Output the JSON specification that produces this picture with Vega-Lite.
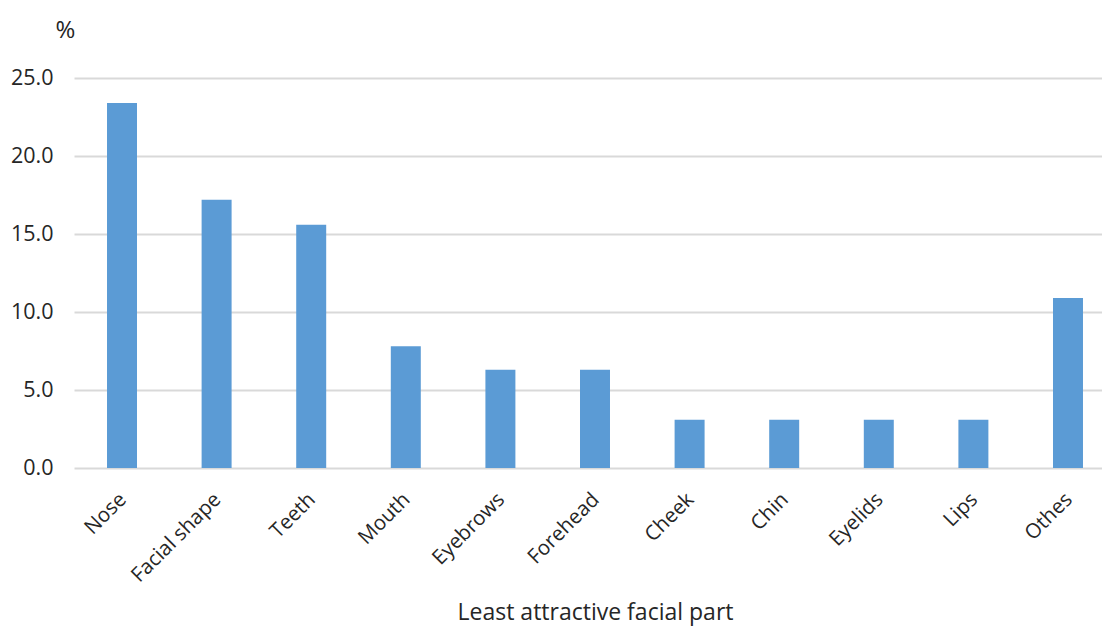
{
  "$schema": "https://vega.github.io/schema/vega-lite/v6.json",
  "width": 1028,
  "height": 390,
  "autosize": {"type": "none"},
  "padding": {"left": 74, "top": 78, "right": 0, "bottom": 160},
  "background": "white",
  "config": {"view": {"stroke": null}, "font": "Open Sans"},
  "data": {
    "values": [
      {"part": "Nose", "pct": 23.4},
      {"part": "Facial shape", "pct": 17.2},
      {"part": "Teeth", "pct": 15.6},
      {"part": "Mouth", "pct": 7.8},
      {"part": "Eyebrows", "pct": 6.3},
      {"part": "Forehead", "pct": 6.3},
      {"part": "Cheek", "pct": 3.1},
      {"part": "Chin", "pct": 3.1},
      {"part": "Eyelids", "pct": 3.1},
      {"part": "Lips", "pct": 3.1},
      {"part": "Othes", "pct": 10.9}
    ]
  },
  "mark": {"type": "bar", "color": "#5b9bd5", "clip": false},
  "encoding": {
    "x": {
      "field": "part",
      "type": "nominal",
      "sort": null,
      "scale": {"range": [0, 1042], "paddingInner": 0.683, "paddingOuter": 0.349},
      "axis": {
        "domain": false,
        "ticks": false,
        "grid": false,
        "labelAngle": -45,
        "labelFontSize": 20.5,
        "labelColor": "#262626",
        "labelPadding": 21,
        "labelOffset": -6,
        "title": "Least attractive facial part",
        "titleFontSize": 23,
        "titleFontWeight": "normal",
        "titleColor": "#262626",
        "titleX": 521,
        "titleY": 151,
        "titleAlign": "center",
        "titleBaseline": "alphabetic"
      }
    },
    "y": {
      "field": "pct",
      "type": "quantitative",
      "scale": {"domain": [0, 25], "nice": false},
      "axis": {
        "domain": false,
        "ticks": false,
        "grid": true,
        "gridColor": "#d9d9d9",
        "gridWidth": 2,
        "values": [0, 5, 10, 15, 20, 25],
        "format": ".1f",
        "labelPadding": 21,
        "labelFontSize": 21.5,
        "labelColor": "#262626",
        "title": "%",
        "titleAngle": 0,
        "titleX": -19,
        "titleY": -41,
        "titleAlign": "left",
        "titleBaseline": "alphabetic",
        "titleFontSize": 24,
        "titleFontWeight": "normal",
        "titleColor": "#262626"
      }
    }
  }
}
